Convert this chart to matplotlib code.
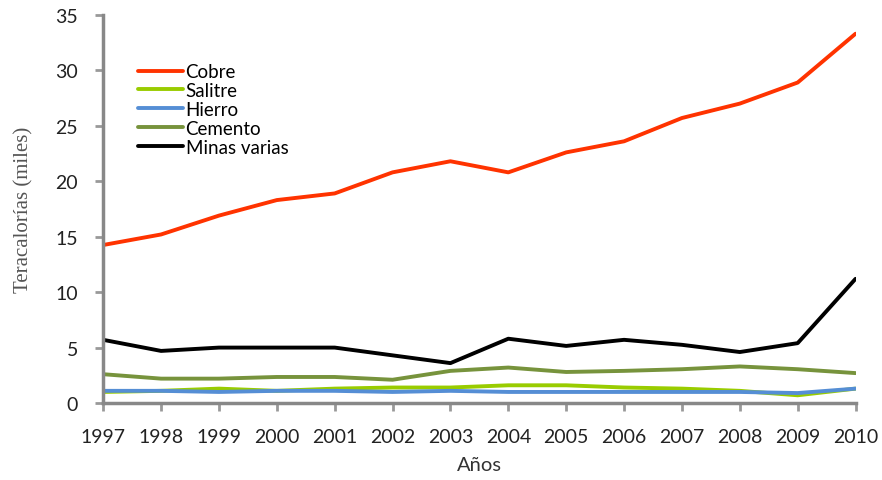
import numpy as np
import matplotlib
matplotlib.use("Agg")
import matplotlib.pyplot as plt

years = list(range(1997, 2011))
cobre = [14.25, 15.2, 16.9, 18.3, 18.9, 20.8, 21.8, 20.8, 22.6, 23.6, 25.7, 27.0, 28.9, 33.3]
salitre = [1.0, 1.1, 1.3, 1.1, 1.3, 1.4, 1.4, 1.6, 1.6, 1.4, 1.3, 1.1, 0.7, 1.3]
hierro = [1.1, 1.1, 1.0, 1.1, 1.1, 1.0, 1.1, 1.0, 1.0, 1.0, 1.0, 1.0, 0.9, 1.3]
cemento = [2.6, 2.2, 2.2, 2.35, 2.35, 2.1, 2.9, 3.2, 2.8, 2.9, 3.05, 3.3, 3.05, 2.7]
minas = [5.7, 4.7, 5.0, 5.0, 5.0, 4.3, 3.6, 5.8, 5.15, 5.7, 5.25, 4.6, 5.4, 11.2]

series = [
    ("Cobre", cobre, "#FF3300"),
    ("Salitre", salitre, "#99CC00"),
    ("Hierro", hierro, "#558ED5"),
    ("Cemento", cemento, "#77933C"),
    ("Minas varias", minas, "#000000"),
]

plt.rcParams["font.family"] = ["Lato", "DejaVu Sans"]

fig = plt.figure(figsize=(8.82, 4.81), dpi=100)
ax = fig.add_axes([0.117, 0.160, 0.853, 0.807])

for name, vals, col in series:
    ax.plot(years, vals, color=col, lw=2.8, label=name, solid_capstyle="round")

ax.set_xlim(1997, 2010)
ax.set_ylim(0, 35)
ax.set_xticks(years)
ax.set_yticks(range(0, 36, 5))
ax.tick_params(axis="both", labelsize=14, colors="#999999", labelcolor="#222222",
               direction="out", length=6, width=2)
ax.tick_params(axis="x", pad=12)
ax.tick_params(axis="y", pad=12)
for s in ["top", "right"]:
    ax.spines[s].set_visible(False)
for s in ["left", "bottom"]:
    ax.spines[s].set_color("#888888")
    ax.spines[s].set_linewidth(2.5)

ax.set_xlabel("Años", fontsize=14.5, color="#333333", labelpad=8)
ax.set_ylabel("Teracalorías (miles)", fontsize=15, family="Liberation Serif",
              color="#555555", labelpad=16)

leg = ax.legend(loc="upper left", bbox_to_anchor=(0.036, 0.895), frameon=False,
                fontsize=13.5, handlelength=2.4, handletextpad=0.15,
                labelspacing=0.1, borderaxespad=0)

fig.savefig("out.png", dpi=100)
